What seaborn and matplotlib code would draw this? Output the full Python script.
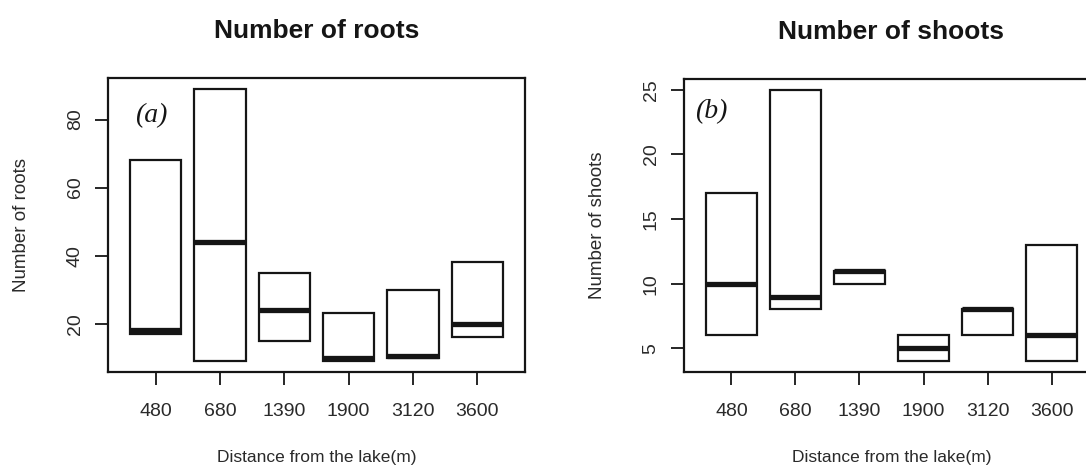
# box summaries (q1 / median / q3)
import seaborn as sns
import matplotlib.pyplot as plt
import pandas as pd

sns.set_style('ticks')
plt.rcParams['font.family'] = ['Liberation Sans', 'DejaVu Sans']

distances = ['480', '680', '1390', '1900', '3120', '3600']

roots_q1 = [17, 9, 15, 9, 10, 16]
roots_med = [18, 44, 24, 10, 10.5, 20]
roots_q3 = [68, 89, 35, 23, 30, 38]

shoots_q1 = [6, 8, 10, 4, 6, 4]
shoots_med = [10, 9, 11, 5, 8, 6]
shoots_q3 = [17, 25, 11, 6, 8, 13]


def box_table(q1, med, q3):
    # five points per site so the quartiles land on q1 / median / q3
    rows = []
    for d, a, m, b in zip(distances, q1, med, q3):
        for v in (a, a, m, b, b):
            rows.append({'distance': d, 'value': v})
    return pd.DataFrame(rows)


ink = '#151515'
fig = plt.figure(figsize=(10.86, 4.76), dpi=100)
ax1 = fig.add_axes([108/1086, 104/476, 417/1086, 294/476])
ax2 = fig.add_axes([684/1086, 104/476, 415/1086, 293/476])

panels = [
    (ax1, box_table(roots_q1, roots_med, roots_q3), 'Number of roots', 'Number of roots',
     '(a)', (5.8, 92.2), [20, 40, 60, 80], (27/417, 1 - 38/294)),
    (ax2, box_table(shoots_q1, shoots_med, shoots_q3), 'Number of shoots', 'Number of shoots',
     '(b)', (3.16, 25.84), [5, 10, 15, 20, 25], (11/415, 1 - 33/293)),
]

for ax, df, title, ylab, tag, ylim, yticks, tagpos in panels:
    sns.boxplot(data=df, x='distance', y='value', order=distances, ax=ax,
                color='white', linecolor=ink, linewidth=1.6, width=0.8,
                whis=0, showcaps=False, showfliers=False,
                medianprops=dict(linewidth=3.8, color=ink))
    ax.set_xlim(-0.74, 5.74)
    ax.set_ylim(*ylim)
    ax.set_yticks(yticks)
    for s in ax.spines.values():
        s.set_linewidth(1.6)
        s.set_color(ink)
    ax.tick_params(axis='both', length=9.5, width=1.3, color=ink,
                   labelsize=14, labelcolor='#2a2a2a')
    ax.tick_params(axis='y', pad=8)
    ax.tick_params(axis='x', pad=13)
    plt.setp(ax.get_yticklabels(), rotation=90, va='center')
    ax.set_title(title, fontsize=19, fontweight='bold', pad=29, color=ink)
    ax.set_ylabel(ylab, fontsize=13.5, color='#2a2a2a')
    ax.set_xlabel('Distance from the lake(m)', fontsize=12.5, color='#2a2a2a')
    ax.yaxis.set_label_coords(-78/417, 0.5)
    ax.xaxis.set_label_coords(0.5, -0.265)
    ax.text(tagpos[0], tagpos[1], tag, transform=ax.transAxes, family='Liberation Serif',
            fontstyle='italic', fontsize=20, ha='left', va='center', color=ink)

fig.savefig('out.png', dpi=100, facecolor='white')
